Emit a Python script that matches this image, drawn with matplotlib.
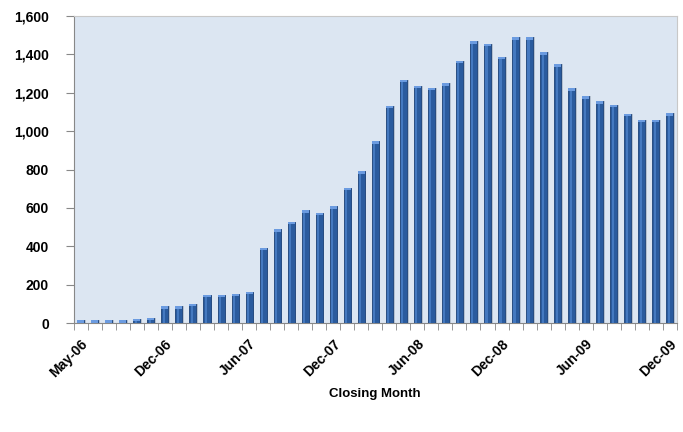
import matplotlib.pyplot as plt
import numpy as np

plt.rcParams['font.family'] = ['Liberation Sans', 'DejaVu Sans']

# monthly closings, May-06 .. Dec-09 (43 categories as drawn)
closings = [14, 14, 14, 14, 21, 26, 87, 87, 100, 149, 149, 153, 163,
            392, 489, 527, 588, 574, 609, 703, 791, 947, 1133, 1267,
            1235, 1227, 1249, 1365, 1468, 1454, 1386, 1489, 1489, 1411,
            1348, 1223, 1182, 1156, 1138, 1090, 1058, 1058, 1093]
tick_labels = ['May-06', 'Dec-06', 'Jun-07', 'Dec-07', 'Jun-08',
               'Dec-08', 'Jun-09', 'Dec-09']
label_step = 6

fig = plt.figure(figsize=(6.83, 4.32), dpi=100)
ax = fig.add_axes([0.108, 0.252, 0.883, 0.711])
ax.set_facecolor('#dce6f2')

x = np.arange(len(closings))
vals = np.array(closings)
w = 0.5
# soft shadow, bar body, lighter top cap
ax.bar(x + 0.12, vals, width=w, color='#9aa8b8', alpha=0.6, zorder=2)
ax.bar(x, vals, width=w, color='#2a5b9e', edgecolor='#1b4178',
       linewidth=0.6, zorder=3)
ax.bar(x - w * 0.15, vals, width=w * 0.3, color='#4479c0', zorder=4)
ax.bar(x, np.full(len(vals), 12.0), bottom=vals - 12, width=w,
       color='#6b9be0', zorder=5)

ax.set_xlim(-0.5, len(closings) - 0.5)
ax.set_ylim(0, 1600)
ax.set_yticks(range(0, 1601, 200))
ax.set_yticklabels(['{:,}'.format(v) for v in range(0, 1601, 200)],
                   fontsize=10, fontweight='bold')

ax.set_xticks(np.arange(-0.5, len(closings), 1), minor=True)
ax.set_xticks(x[::label_step])
ax.set_xticklabels(tick_labels, rotation=45, ha='right',
                   rotation_mode='anchor', fontsize=10, fontweight='bold')
ax.tick_params(axis='x', which='major', length=0, pad=10)
ax.tick_params(axis='x', which='minor', length=5, color='#888888')
ax.tick_params(axis='y', length=6, color='#888888', pad=12)

for s in ['left', 'bottom']:
    ax.spines[s].set_color('#888888')
for s in ['top', 'right']:
    ax.spines[s].set_color('#c8c8c8')

ax.set_xlabel('Closing Month', fontsize=9.5, fontweight='bold', labelpad=6)

fig.savefig('out.png', dpi=100)
